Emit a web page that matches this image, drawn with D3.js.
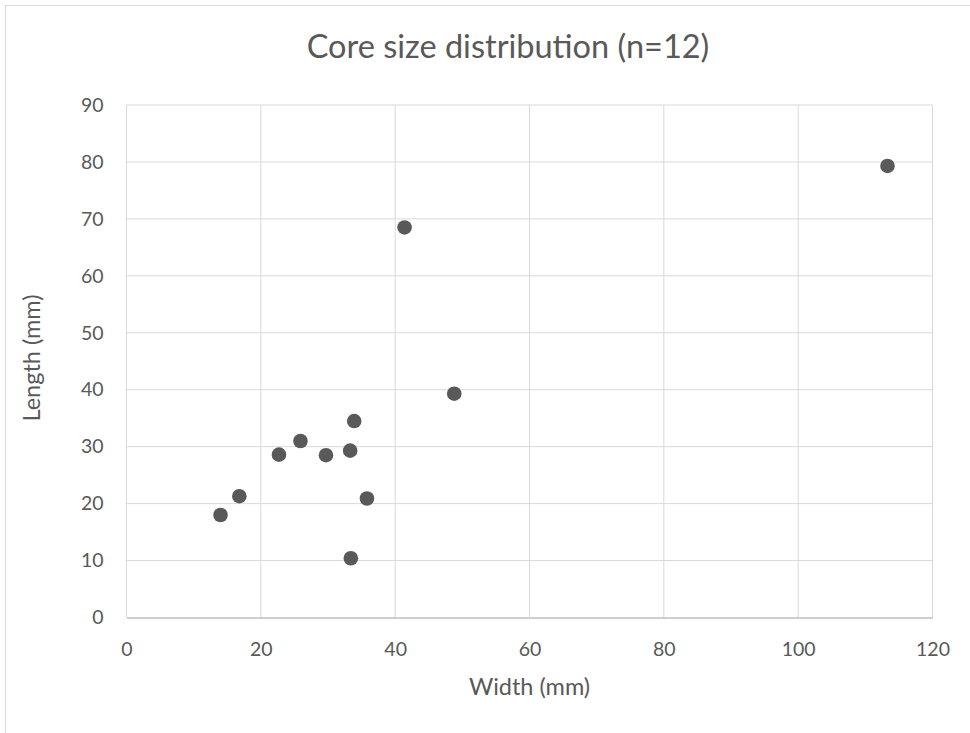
<!DOCTYPE html>
<html>
<head>
<meta charset="utf-8">
<script src="https://cdn.jsdelivr.net/npm/d3@7"></script>
<style>
  html, body { margin: 0; padding: 0; background: #fff; }
  svg { display: block; font-family: "Lato", "Open Sans", sans-serif; }
</style>
</head>
<body>
<svg id="chart" width="970" height="733"></svg>
<script>
// Core measurements (mm)
const widths  = [14.0, 16.8, 22.7, 25.9, 29.7, 33.3, 33.9, 35.8, 33.4, 41.4, 48.8, 113.3];
const lengths = [18.0, 21.3, 28.6, 31.0, 28.5, 29.3, 34.5, 20.9, 10.4, 68.5, 39.3, 79.3];
const xTicks = [0, 20, 40, 60, 80, 100, 120];
const yTicks = [0, 10, 20, 30, 40, 50, 60, 70, 80, 90];

const titleText = "Core size distribution (n=12)";
const xTitle = "Width (mm)";
const yTitle = "Length (mm)";

const svg = d3.select("#chart");
const W = 970, H = 733;
const plot = { left: 126.5, right: 932.5, top: 105, bottom: 617.5 };
const textColor = "#595959";

// chart frame
svg.append("rect")
  .attr("x", 5.5).attr("y", 5.5)
  .attr("width", W + 10).attr("height", H + 10)
  .attr("fill", "#fff").attr("stroke", "#d9d9d9").attr("stroke-width", 1);

const x = d3.scaleLinear().domain([0, 120]).range([plot.left, plot.right]);
const y = d3.scaleLinear().domain([0, 90]).range([plot.bottom, plot.top]);

// gridlines
const grid = svg.append("g");
grid.selectAll("line.v").data(xTicks).join("line")
  .attr("x1", d => x(d)).attr("x2", d => x(d))
  .attr("y1", plot.top).attr("y2", plot.bottom)
  .attr("stroke", "#d9d9d9").attr("stroke-width", 1);
grid.selectAll("line.h").data(yTicks.filter(d => d > 0)).join("line")
  .attr("x1", plot.left).attr("x2", plot.right)
  .attr("y1", d => y(d)).attr("y2", d => y(d))
  .attr("stroke", "#d9d9d9").attr("stroke-width", 1);

// x axis
const xAxis = svg.append("g")
  .attr("transform", `translate(0,${plot.bottom})`)
  .call(d3.axisBottom(x).tickValues(xTicks).tickSize(0).tickPadding(25));
xAxis.select(".domain").attr("stroke", "#bfbfbf").attr("stroke-width", 1.3);
xAxis.selectAll("text").attr("fill", textColor).style("font-size", "19.5px")
  .style("font-family", "Lato, 'Open Sans', sans-serif");

// y axis
const yAxis = svg.append("g")
  .attr("transform", `translate(${plot.left},0)`)
  .call(d3.axisLeft(y).tickValues(yTicks).tickSize(0).tickPadding(23));
yAxis.select(".domain").remove();
yAxis.selectAll("text").attr("fill", textColor).style("font-size", "19.5px")
  .style("font-family", "Lato, 'Open Sans', sans-serif");

// points
svg.append("g").selectAll("circle")
  .data(widths.map((w, i) => ({ w, l: lengths[i] })))
  .join("circle")
  .attr("cx", d => x(d.w)).attr("cy", d => y(d.l))
  .attr("r", 7.3)
  .attr("fill", "#595959");

// titles
svg.append("text")
  .attr("x", 508).attr("y", 58)
  .attr("text-anchor", "middle")
  .attr("fill", textColor)
  .style("font-size", "32.5px")
  .text(titleText);

svg.append("text")
  .attr("x", 529.5).attr("y", 695)
  .attr("text-anchor", "middle")
  .attr("fill", textColor)
  .style("font-size", "23.5px")
  .text(xTitle);

svg.append("text")
  .attr("transform", `translate(40,358) rotate(-90)`)
  .attr("text-anchor", "middle")
  .attr("fill", textColor)
  .style("font-size", "23.5px")
  .text(yTitle);
</script>
</body>
</html>
